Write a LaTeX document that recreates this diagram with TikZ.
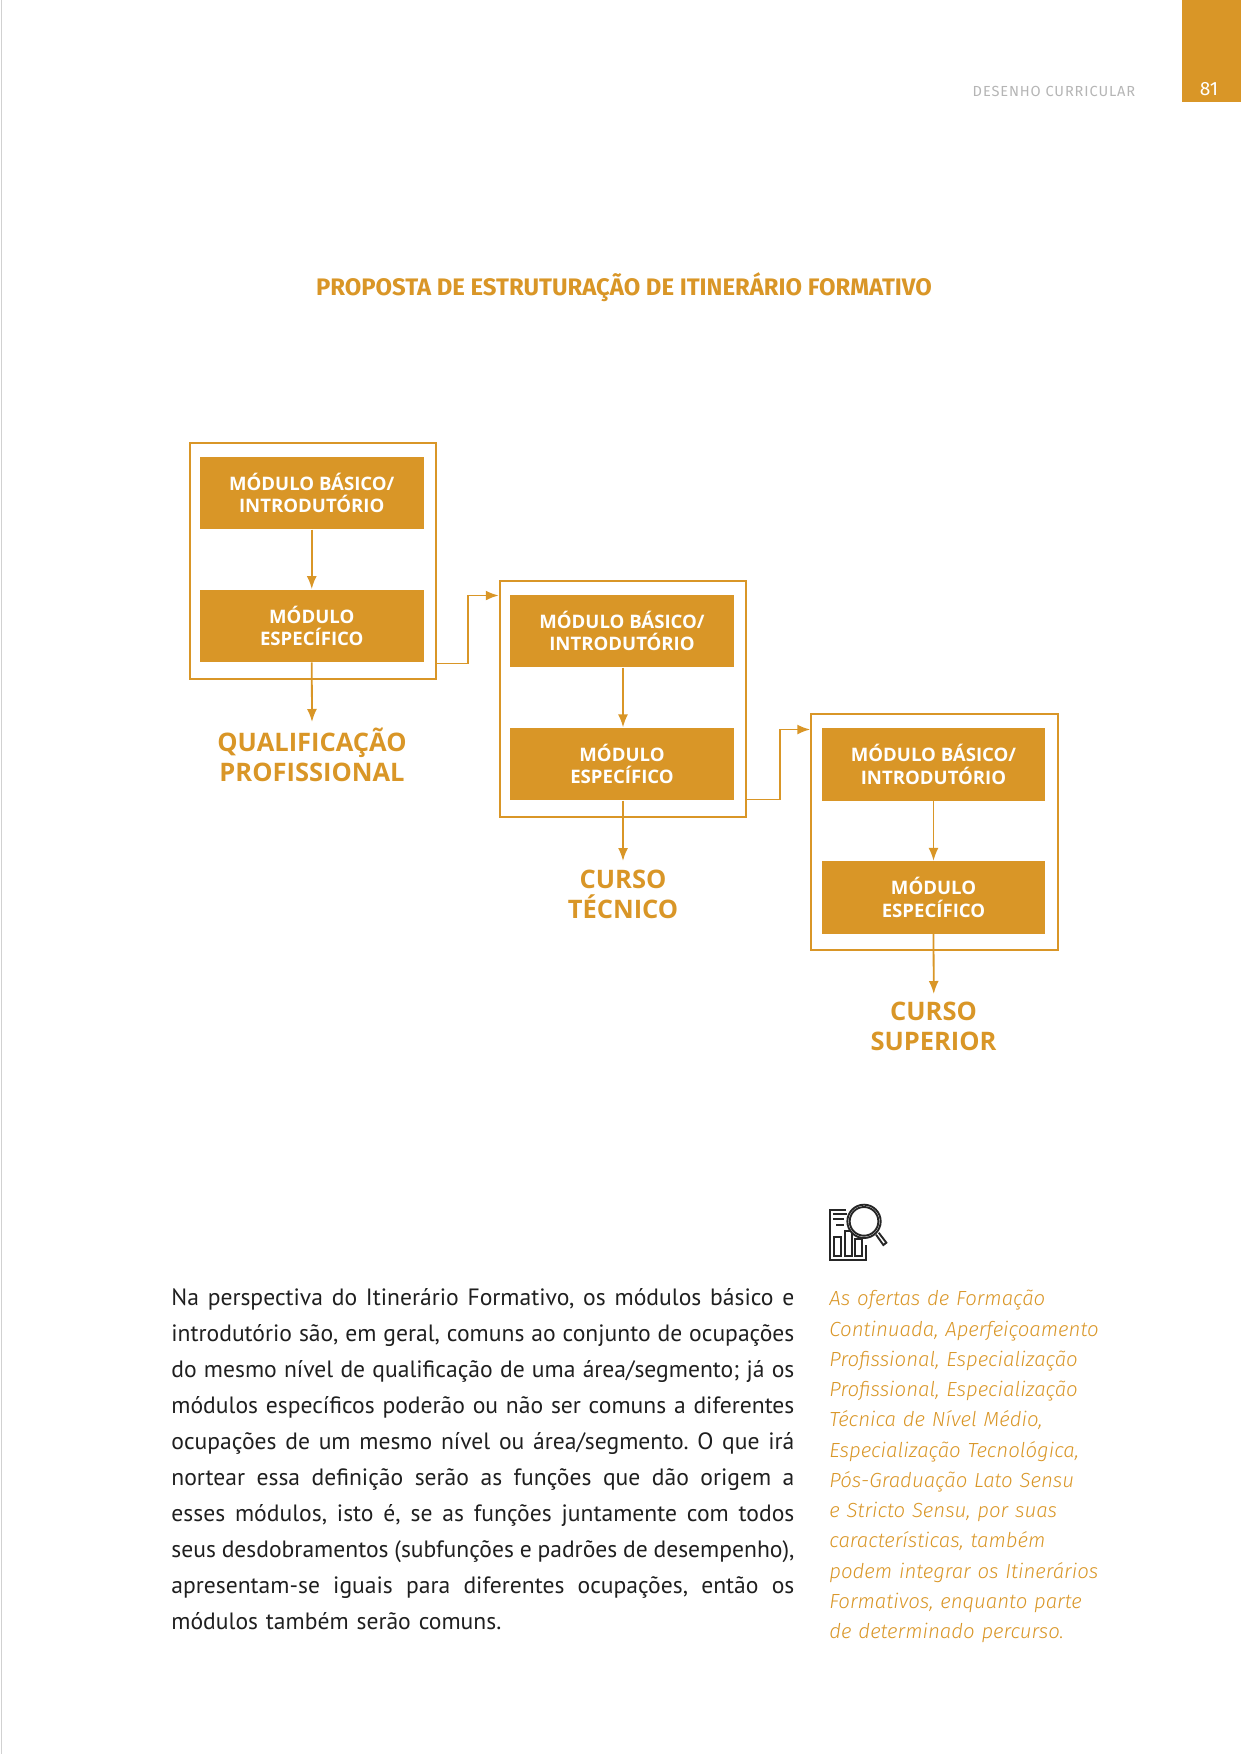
\documentclass[tikz,border=0pt]{standalone}
\usepackage{fontspec}
\setmainfont{Fira Sans}
\newfontfamily\lab{Open Sans}
\newfontfamily\bodyf{PT Sans}
\newfontfamily\sidef[ItalicFont={Fira Sans Light Italic}]{Fira Sans}
\definecolor{ouro}{HTML}{D99627}
\definecolor{cinza}{HTML}{B5B5B5}
\newlength\bodyw \setlength\bodyw{311.5pt}
\newcommand\jl[1]{\hbox to \bodyw{\frenchspacing\spaceskip=0.2em plus 1fil minus 0.1em\relax #1}}
\usetikzlibrary{arrows.meta,calc}
\tikzset{
 inner/.style={fill=ouro,text=white,minimum width=111.75pt,minimum height=36.25pt,inner sep=0,align=center,font=\lab\bfseries\fontsize{9.3}{11.2}\selectfont},
 outerbox/.style={draw=ouro,line width=1pt,fill=none,minimum width=123.25pt,minimum height=118pt,inner sep=0},
 flow/.style={draw=ouro,line width=0.9pt,-{Latex[length=6.5pt,width=5pt]}},
 result/.style={text=ouro,align=center,font=\lab\bfseries\fontsize{12.75}{15}\selectfont,inner sep=0},
}
\begin{document}
\begin{tikzpicture}[x=0.5pt,y=-0.5pt]
\useasboundingbox (0,0) rectangle (1241,1754);
\draw[black!18,line width=0.5pt] (1,0)--(1,1754);
\fill[ouro] (1182,0) rectangle (1241,102);
\node[text=white,font=\fontsize{9.6}{11}\selectfont,inner sep=0] (pg) at (1209,89) {81};
\node[text=cinza,font=\fontsize{7.3}{9}\selectfont,inner sep=0] (hd) at (1054,91) {\addfontfeature{LetterSpace=6}DESENHO CURRICULAR};
\node[text=ouro,font=\bfseries\fontsize{11.95}{13}\selectfont,inner sep=0] (tt) at (624,287) {PROPOSTA DE ESTRUTURAÇÃO DE ITINERÁRIO FORMATIVO};
% group 1
\node[outerbox] (o1) at (313,561) {};
\node[inner] (a1) at (311.75,493) {MÓDULO BÁSICO/\\INTRODUTÓRIO};
\node[inner] (b1) at (311.75,625.75) {MÓDULO\\ESPECÍFICO};
\node[result] (r1) at (312,755) {QUALIFICAÇÃO\\PROFISSIONAL};
\coordinate (t1) at (312,722);
% group 2
\node[outerbox] (o2) at (623,699) {};
\node[inner] (a2) at (622,631) {MÓDULO BÁSICO/\\INTRODUTÓRIO};
\node[inner] (b2) at (622,764) {MÓDULO\\ESPECÍFICO};
\node[result] (r2) at (623,894) {CURSO\\TÉCNICO};
\coordinate (t2) at (623,861);
% group 3
\node[outerbox] (o3) at (934.5,832) {};
\node[inner] (a3) at (933.5,764.5) {MÓDULO BÁSICO/\\INTRODUTÓRIO};
\node[inner] (b3) at (933.5,897.5) {MÓDULO\\ESPECÍFICO};
\node[result] (r3) at (933.5,1026) {CURSO\\SUPERIOR};
\coordinate (t3) at (933.75,994);
% arrows
\draw[flow] (a1.south) -- (b1.north);
\draw[flow] (b1.south) -- (t1);
\draw[flow] (a2.south -| t2) -- (b2.north -| t2);
\draw[flow] (b2.south -| t2) -- (t2);
\draw[flow] (a3.south) -- (b3.north);
\draw[flow] (b3.south) -- (t3);
\coordinate (e1) at ($(o1.east)+(0,102.5)$);
\coordinate (i2) at ($(o2.west)+(0,-103.5)$);
\coordinate (e2) at ($(o2.east)+(0,100.5)$);
\coordinate (i3) at ($(o3.west)+(0,-102.5)$);
\draw[flow] (e1) -- ++(31,0) |- (i2);
\draw[flow] (e2) -- ++(33,0) |- (i3);
% icon
\begin{scope}[shift={(810,1190)},x=0.1667pt,y=-0.1667pt,draw=black!85,line width=0.95pt]
\draw (108,60) -- (60,60) -- (60,210) -- (168,210) -- (168,165);
\draw (70,72) -- (110,72) (70,88) -- (103,88) (78,105) -- (103,105);
\draw (72,142) rectangle (93,197);
\draw (104,122) rectangle (125,197);
\draw (136,148) rectangle (157,197);
\draw[fill=white] (162,94) circle (50);
\draw (162,94) circle (43);
\draw (198,134) -- (220,165) -- (229,158) -- (206,128);
\end{scope}
% body
\node[anchor=north west,inner sep=0,text width=\bodyw,font=\bodyf\fontsize{11.8}{18}\selectfont,text=black!88] (body) at (171,1288.5) {%
\jl{Na perspectiva do Itinerário Formativo, os módulos básico e}
\jl{introdutório são, em geral, comuns ao conjunto de ocupações}
\jl{do mesmo nível de qualificação de uma área/segmento; já os}
\jl{módulos específicos poderão ou não ser comuns a diferentes}
\jl{ocupações de um mesmo nível ou área/segmento. O que irá}
\jl{nortear essa definição serão as funções que dão origem a}
\jl{esses módulos, isto é, se as funções juntamente com todos}
\jl{seus desdobramentos (subfunções e padrões de desempenho),}
\jl{apresentam-se iguais para diferentes ocupações, então os}
\hbox{\frenchspacing módulos também serão comuns.}};
\node[anchor=north west,inner sep=0,text width=140pt,align=left,text=ouro,font=\sidef\itshape\fontsize{10.2}{15.12}\selectfont] (side) at (829,1290) {As ofertas de Formação\\Continuada, Aperfeiçoamento\\Profissional, Especialização\\Profissional, Especialização\\Técnica de Nível Médio,\\Especialização Tecnológica,\\Pós-Graduação Lato Sensu\\e Stricto Sensu, por suas\\características, também\\podem integrar os Itinerários\\Formativos, enquanto parte\\de determinado percurso.};
\end{tikzpicture}
\end{document}
